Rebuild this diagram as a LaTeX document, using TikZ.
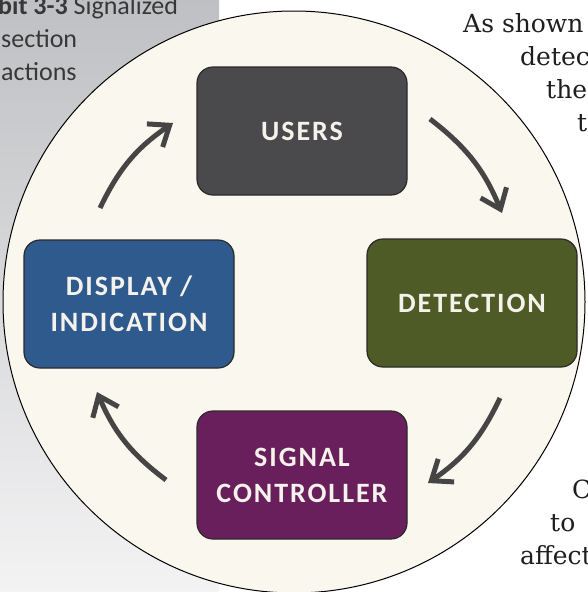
\documentclass[tikz,border=0pt]{standalone}
\usepackage{fontspec}
\usetikzlibrary{arrows.meta}
\newfontfamily\carlito{Carlito}
\newfontfamily\boxfont[LetterSpace=7]{Carlito}
\newfontfamily\pageserif{DejaVu Serif}
\definecolor{paneltop}{HTML}{BFC0C3}
\definecolor{panelmid}{HTML}{C7C8CB}
\definecolor{panelbot}{HTML}{F3F3F4}
\definecolor{cream}{HTML}{F9F7EE}
\definecolor{usersc}{HTML}{4A4A4C}
\definecolor{displayc}{HTML}{2F5A8E}
\definecolor{detectc}{HTML}{4E5B26}
\definecolor{signalc}{HTML}{6A1F5D}
\definecolor{boxline}{HTML}{2A2A2A}
\definecolor{boxtext}{HTML}{F4F2EA}
\definecolor{arrowc}{HTML}{454545}
\definecolor{captionc}{HTML}{383838}
\definecolor{pagetext}{HTML}{1E1E1E}
\begin{document}
\begin{tikzpicture}[x=1pt,y=-1pt,
  stagebox/.style={draw=boxline, line width=1.2pt, rounded corners=16pt,
    minimum width=210pt, minimum height=128pt, text=boxtext, align=center,
    font=\boxfont\bfseries\fontsize{28pt}{36pt}\selectfont},
  captiontext/.style={inner sep=0pt, anchor=base west, text=captionc,
    font=\carlito\fontsize{26pt}{33pt}\selectfont},
  pagetxt/.style={inner sep=0pt, anchor=base west, text=pagetext,
    font=\pageserif\fontsize{25pt}{31pt}\selectfont},
  flow/.style={draw=arrowc, line width=5pt,
    -{Straight Barb[length=18pt,width=28pt]}, bend left=15}]
\useasboundingbox (0,0) rectangle (587,592);
\clip (0,0) rectangle (587,592);
\fill[white] (0,0) rectangle (587,592);
\shade[top color=paneltop, middle color=panelmid, bottom color=panelbot]
  (0,0) rectangle (219,592);
% caption fragments
\node[captiontext] (cap1) at (-2,14) {\textbf{bit 3-3} Signalized};
\node[captiontext] (cap2) at (1,47) {section};
\node[captiontext] (cap3) at (1,80) {actions};
% page text fragments
\node[pagetxt] (p1) at (463,32) {As shown};
\node[pagetxt] (p2) at (520,65) {detec};
\node[pagetxt] (p3) at (546,98) {the};
\node[pagetxt] (p4) at (577,131) {t};
\node[pagetxt] (p5) at (572,498) {C};
\node[pagetxt] (p6) at (550,531) {to};
\node[pagetxt] (p7) at (520,564) {affect};
% circle
\filldraw[fill=cream, draw=black, line width=1pt] (294,302) circle (291pt);
% boxes
\node[stagebox, fill=usersc] (users) at (302,131) {USERS};
\node[stagebox, fill=detectc] (detect) at (472,303) {DETECTION};
\node[stagebox, fill=signalc] (signal) at (302,475) {SIGNAL\\CONTROLLER};
\node[stagebox, fill=displayc] (display) at (129,304) {DISPLAY /\\INDICATION};
% arrows
\coordinate (a1s) at (100,208); \coordinate (a1e) at (173,123);
\coordinate (a2s) at (430,119); \coordinate (a2e) at (502,213);
\coordinate (a3s) at (500,398); \coordinate (a3e) at (428,483);
\coordinate (a4s) at (166,480); \coordinate (a4e) at (97,392);
\draw[flow] (a1s) to (a1e);
\draw[flow] (a2s) to (a2e);
\draw[flow] (a3s) to (a3e);
\draw[flow] (a4s) to (a4e);
\end{tikzpicture}
\end{document}
